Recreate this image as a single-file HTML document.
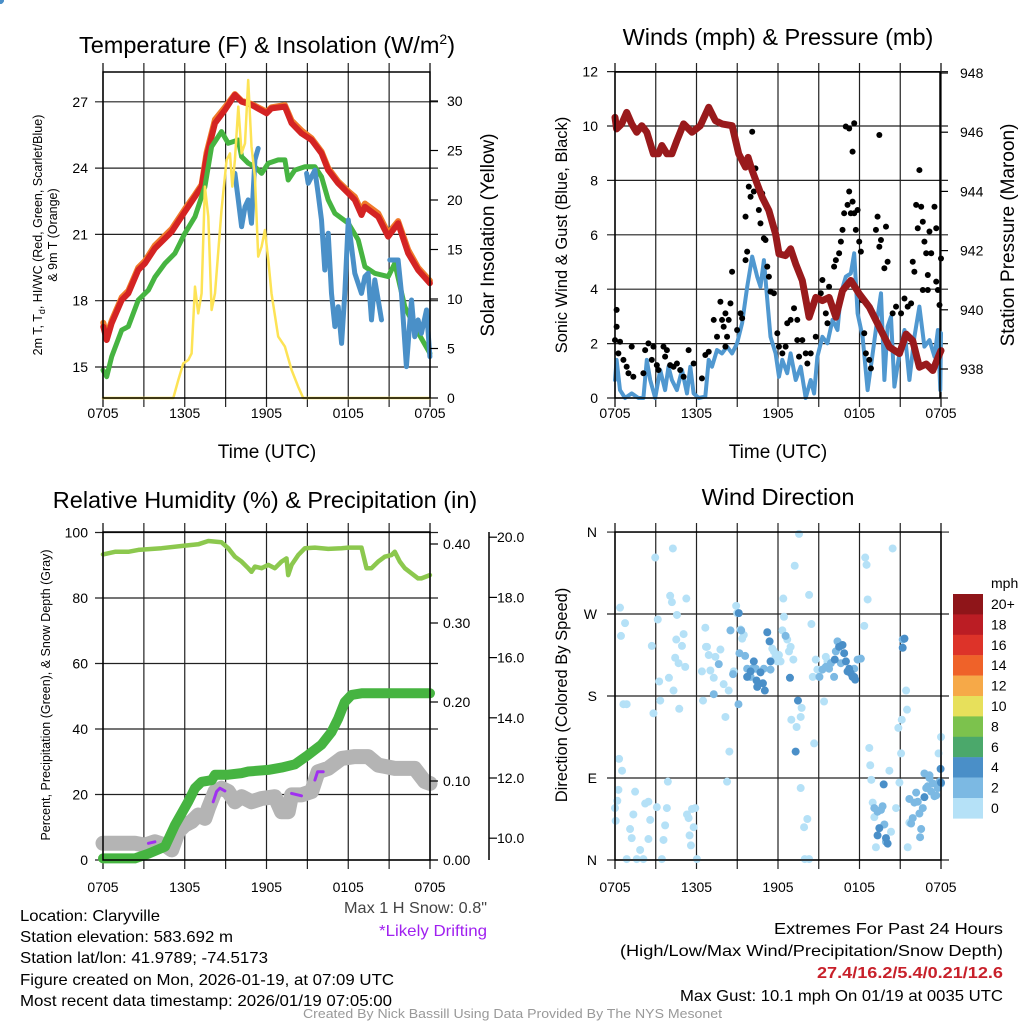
<!DOCTYPE html>
<html><head><meta charset="utf-8"><style>
html,body{margin:0;padding:0;background:#fff;}
svg{display:block;font-family:"Liberation Sans",Arial,sans-serif;}
</style></head><body>
<svg id="fig" width="1024" height="1024" viewBox="0 0 1024 1024" xmlns="http://www.w3.org/2000/svg">
<rect width="1024" height="1024" fill="#fff"/>
<g id="layerBack"></g>
<g id="layerData"></g>
<g id="layerFront"></g>
<g id="texts" fill="#000">
<text x="267" y="53" font-size="23.5" text-anchor="middle">Temperature (F) &amp; Insolation (W/m<tspan font-size="14" dy="-9">2</tspan><tspan dy="9">)</tspan></text>
<text x="778" y="45" font-size="23.5" text-anchor="middle">Winds (mph) &amp; Pressure (mb)</text>
<text x="265" y="508" font-size="23.5" text-anchor="middle">Relative Humidity (%) &amp; Precipitation (in)</text>
<text x="778" y="505" font-size="23.5" text-anchor="middle">Wind Direction</text>
<text transform="translate(42,235) rotate(-90)" font-size="12.5" text-anchor="middle">2m T, T<tspan font-size="9" dy="3">d</tspan><tspan dy="-3">, HI/WC (Red, Green, Scarlet/Blue)</tspan></text>
<text transform="translate(57,235) rotate(-90)" font-size="12.5" text-anchor="middle">&amp; 9m T (Orange)</text>
<text transform="translate(494,235) rotate(-90)" font-size="19" text-anchor="middle">Solar Insolation (Yellow)</text>
<text x="267" y="458" font-size="19" text-anchor="middle">Time (UTC)</text>
<text x="778" y="458" font-size="19" text-anchor="middle">Time (UTC)</text>
<text transform="translate(567,235) rotate(-90)" font-size="16.5" text-anchor="middle">Sonic Wind &amp; Gust (Blue, Black)</text>
<text transform="translate(1014,235) rotate(-90)" font-size="19" text-anchor="middle">Station Pressure (Maroon)</text>
<text transform="translate(50,695) rotate(-90)" font-size="12.5" text-anchor="middle">Percent, Precipitation (Green), &amp; Snow Depth (Gray)</text>
<text transform="translate(567,695) rotate(-90)" font-size="16.5" text-anchor="middle">Direction (Colored By Speed)</text>
<text x="344" y="913" font-size="16" fill="#444" textLength="143" lengthAdjust="spacingAndGlyphs">Max 1 H Snow: 0.8"</text>
<text x="379" y="936" font-size="16" fill="#a020f0" textLength="108" lengthAdjust="spacingAndGlyphs">*Likely Drifting</text>
<text x="20" y="921" font-size="16" textLength="140" lengthAdjust="spacingAndGlyphs">Location: Claryville</text>
<text x="20" y="942" font-size="16" textLength="213" lengthAdjust="spacingAndGlyphs">Station elevation: 583.692 m</text>
<text x="20" y="963" font-size="16" textLength="248" lengthAdjust="spacingAndGlyphs">Station lat/lon: 41.9789; -74.5173</text>
<text x="20" y="985" font-size="16" textLength="374" lengthAdjust="spacingAndGlyphs">Figure created on Mon, 2026-01-19, at 07:09 UTC</text>
<text x="20" y="1006" font-size="16" textLength="372" lengthAdjust="spacingAndGlyphs">Most recent data timestamp: 2026/01/19 07:05:00</text>
<text x="774" y="934" font-size="16" textLength="229" lengthAdjust="spacingAndGlyphs">Extremes For Past 24 Hours</text>
<text x="620" y="956" font-size="16" textLength="383" lengthAdjust="spacingAndGlyphs">(High/Low/Max Wind/Precipitation/Snow Depth)</text>
<text x="817" y="978" font-size="16" font-weight="bold" fill="#c8202a" textLength="186" lengthAdjust="spacingAndGlyphs">27.4/16.2/5.4/0.21/12.6</text>
<text x="680" y="1001" font-size="16" textLength="323" lengthAdjust="spacingAndGlyphs">Max Gust: 10.1 mph On 01/19 at 0035 UTC</text>
<text x="303" y="1018" font-size="12.5" fill="#999" textLength="419" lengthAdjust="spacingAndGlyphs">Created By Nick Bassill Using Data Provided By The NYS Mesonet</text>
<text x="991" y="588" font-size="14">mph</text>
</g>
</svg>
<script>
// ---------- DATA ----------
const xTickLabels = ['0705','1305','1905','0105','0705'];
const xTickHours = [0,6,12,18,24];
const tempTicks = [15,18,21,24,27];
const solarTicks = [0,5,10,15,20,25,30];
const windTicks = [0,2,4,6,8,10,12];
const presTicks = [938,940,942,944,946,948];
const rhTicks = [0,20,40,60,80,100];
const precipTicks = [0,0.1,0.2,0.3,0.4];
const snowTicks = [10,12,14,16,18,20];
const dirTicks = [0,90,180,270,360];
const dirLabels = ['N','E','S','W','N'];

const redT = [0.02,0.27,0.64,1.37,1.86,2.59,3.08,3.81,4.55,5.04,6.01,6.75,7.24,7.6,8.22,8.95,9.68,10.17,10.9,12,12.37,13.35,13.84,14.57,15.31,16.04,16.53,17.26,18,18.48,18.97,19.22,20.2,20.93,21.66,22.4,23.13,23.99];
const redV = [16.82,16.22,16.98,18.03,18.33,19.39,19.69,20.37,20.82,21.12,22.03,22.71,23.16,24.52,26.03,26.63,27.31,27.01,26.86,26.48,26.7,26.78,26.03,25.57,25.27,24.67,23.91,23.31,22.86,22.56,21.88,22.25,21.8,20.9,21.5,20.14,19.39,18.79];
const orangeV = [17.0,16.4,17.1,18.15,18.45,19.5,19.8,20.5,20.95,21.25,22.15,22.8,23.25,24.7,26.2,26.75,27.35,27.05,26.9,26.55,26.75,26.85,26.15,25.7,25.35,24.75,24.0,23.4,22.95,22.7,22.05,22.4,21.95,21.05,21.6,20.3,19.5,18.9];
const greenT = [0,0.27,0.64,1.37,1.86,2.59,3.33,3.81,4.55,5.28,6.01,6.75,7.48,7.97,8.7,9.19,9.93,10.17,10.66,11.15,11.64,12.13,12.86,13.35,13.59,14.08,14.82,15.55,16.04,16.53,17.02,18,18.73,19.22,19.95,20.93,21.42,22.15,22.88,23.99];
const greenV = [14.86,14.56,15.47,16.67,16.83,18.03,18.48,19.07,19.69,20.14,21.05,21.8,23.16,24.97,25.65,25.12,25.27,24.52,24.22,24.06,23.76,24.22,24.37,24.37,23.46,23.91,24.06,24.06,23.61,22.56,21.95,21.5,20.75,19.54,19.24,19.09,19.69,17.73,16.83,15.62];
const blueT = [9.68,9.93,10.17,10.42,10.66,10.9,11.15,11.39,null,14.94,15.06,15.55,15.79,16.04,16.28,16.53,16.77,17.02,17.26,17.51,17.75,18,18.24,18.48,18.97,19.22,19.46,19.71,19.95,20.2,20.44,null,21.05,21.66,21.91,22.27,22.64,22.88,23.13,23.37,23.74,23.99];
const blueV = [23.76,22.56,21.35,22.25,22.56,21.5,24.37,24.89,null,23.76,23.31,23.91,22.86,21.65,19.39,21.05,18.33,16.83,17.73,16.07,18.33,21.65,20.45,19.24,18.33,19.09,19.24,17.13,18.94,18.03,17.13,null,19.84,19.84,18.33,15.02,18.03,16.37,17.13,16.52,17.58,15.47];
const solarT = [0,5.16,5.53,5.89,6.26,6.5,6.75,6.99,7.24,7.48,7.73,7.97,8.22,8.7,9.07,9.32,9.49,9.68,9.93,10.17,10.42,10.66,10.9,11.15,11.39,11.64,11.88,12.13,12.37,12.86,13.35,13.84,14.33,14.69,24];
const solarV = [0,0,1.82,3.5,3.84,4.5,11.25,8.55,10.57,21.35,18.32,8.89,10.57,18.99,24.04,24.71,21.35,24.04,29.43,24.71,25.72,32.12,25.39,22.36,14.28,15.29,16.97,13.94,10.57,6.2,5.19,2.83,1.14,0,0];

const presT = [0,0.12,0.49,0.86,1.23,1.6,1.97,2.34,2.83,3.2,3.45,3.82,4.19,4.56,5.05,5.67,6.28,6.9,7.39,7.88,8.62,9.11,9.61,9.8,10.1,10.84,11.33,11.82,12.07,12.56,12.93,13.3,13.79,14.29,14.78,15.27,15.76,16.26,16.75,17.36,17.98,18.72,19.46,20.2,20.94,21.43,21.92,22.41,22.91,23.4,23.89,24];
const presV = [946.5,946.11,946.28,946.67,946.28,946.0,946.22,946.0,945.27,945.27,945.55,945.27,945.27,945.72,946.28,946.0,946.22,946.84,946.39,946.28,946.22,945.27,944.82,945.15,944.7,943.8,943.35,942.56,941.89,941.83,942.06,941.55,940.99,939.75,940.42,940.31,940.42,939.75,940.65,940.99,940.54,940.09,939.42,938.74,938.52,939.18,938.96,938.06,938.17,937.95,938.51,938.62];
const windT = [0,0.12,0.37,0.74,1.23,1.72,2.09,2.34,2.59,2.96,3.33,3.69,3.94,4.19,4.56,4.93,5.3,5.54,5.79,6.16,6.65,6.9,7.14,7.51,7.88,8.25,8.62,8.99,9.36,9.73,10.1,10.47,10.71,10.96,11.21,11.45,11.82,12.07,12.32,12.68,12.93,13.3,13.67,14.04,14.41,14.66,14.9,15.27,15.64,16.01,16.38,16.63,16.99,17.36,17.61,17.86,18.23,18.6,18.97,19.33,19.58,19.83,20.07,20.32,20.57,20.94,21.31,21.67,22.04,22.41,22.78,23.15,23.52,23.77,23.95,24];
const windV = [0.66,1.4,0.29,0,0.17,0,0,1.4,0.66,0,1.03,0.29,1.15,0.66,0.29,1.03,0.17,1.15,0.17,0,0.05,1.4,1.15,1.76,1.64,1.89,1.64,2.01,2.75,4.09,5.2,4.46,4.09,5.07,3.6,2.25,1.64,0.78,1.4,0.91,1.64,0.66,1.15,0,0.66,0.17,1.52,2.25,2.01,2.87,2.5,3.85,4.46,4.58,5.32,3.11,2.25,0.29,1.64,2.99,3.85,0.66,2.62,2.99,0.42,1.64,2.5,0.66,2.25,3.36,1.89,2.13,1.52,2.5,0.29,2.38];
const gustT = [0.12,0.12,0,0.25,0.37,0.62,0.86,1.23,0.99,1.35,2.09,2.22,2.46,2.83,2.71,3.08,3.2,3.57,3.69,3.82,4.06,4.31,4.56,4.8,5.05,5.42,5.79,6.4,6.65,6.9,7.27,7.51,7.76,7.88,8,8.13,8.25,8.37,8.5,8.62,8.13,8.99,9.24,9.36,9.61,9.61,9.73,9.98,10.1,10.34,9.85,10.22,10.59,10.71,10.84,10.96,11.08,11.21,11.33,11.45,11.7,11.95,12.07,12.32,12.56,12.68,12.93,13.18,13.42,13.42,13.55,13.79,14.04,14.16,14.41,14.78,15.15,15.27,15.52,15.64,15.76,16.13,16.26,16.5,16.63,16.75,16.87,17.12,17.24,17.36,17.49,17.61,17.73,17.86,17.98,18.1,16.99,17.24,17.61,17.49,18.18,18.35,18.47,18.72,18.84,19.21,19.33,19.46,19.58,19.95,19.83,20.07,19.46,20.44,20.69,21.06,21.31,21.55,21.8,21.92,22.04,22.17,22.29,22.41,22.54,22.66,22.78,22.91,23.03,23.15,23.28,23.52,23.65,23.65,23.77,23.89,24,22.66,23.03];
const gustV = [3.24,2.62,2.13,1.64,2.07,1.4,1.15,1.89,0.91,0.78,0.91,1.76,2.01,1.89,1.4,1.21,1.03,1.89,1.52,1.76,1.21,1.15,1.27,1.03,0.78,1.76,1.27,0.72,1.58,1.7,2.87,2.25,3.54,2.87,2.62,3.11,2.25,2.87,3.48,4.64,1.89,2.5,3.11,2.93,5.07,6.67,5.38,7.4,9.79,8.44,7.77,7.59,6.91,6.42,7.52,5.87,5.81,4.83,4.46,3.91,3.85,2.38,1.89,1.64,1.89,2.75,2.87,3.3,2.87,2.13,1.52,2.13,1.64,1.27,1.64,2.25,3.85,4.34,3.11,2.75,4.09,4.83,5.07,5.32,5.75,6.18,6.79,7.1,7.59,6.79,7.22,6.79,6.18,6.91,5.75,5.38,9.98,9.91,10.1,9.06,3.6,2.38,1.64,1.4,1.09,6.18,6.67,5.56,5.81,6.3,4.77,5.01,9.67,3.11,3.36,3.11,3.66,3.36,3.48,5.01,4.64,7.1,6.24,8.38,7.03,6.48,5.75,5.32,4.52,6.12,5.32,7.03,6.24,4.28,3.97,3.42,5.13,3.97,3.97];

const rhT = [0,0.88,1.86,2.59,4.3,6.01,6.99,7.73,8.7,9.19,9.68,10.17,10.66,10.9,11.15,11.64,12.13,12.62,13.1,13.47,13.59,13.84,14.33,14.82,15.55,16.53,17.51,18,18.97,19.34,19.71,20.2,20.68,21.17,21.42,21.78,22.15,22.64,23.13,23.37,23.99];
const rhV = [93.3,94.1,94.1,94.7,95.2,96,96.4,97.4,97,95.2,92.6,91.1,89.1,88,89.6,89.1,90.1,89.1,91.1,92.1,87,90.1,93.1,95.2,95.4,95,95.2,95.4,95.4,89.1,89.1,91.1,92.6,93.1,94.1,91.1,89.1,87.5,86,86,87];
const precipT = [0,2.35,3.33,4.55,5.28,5.77,6.26,6.75,7.24,7.97,8.22,9.19,10.17,10.66,12.13,13.1,14.08,15.06,16.04,16.77,17.26,17.75,18.24,18.97,24];
const precipV = [0.002,0.002,0.008,0.017,0.044,0.059,0.074,0.091,0.099,0.101,0.108,0.108,0.11,0.112,0.114,0.117,0.121,0.133,0.146,0.162,0.179,0.2,0.209,0.211,0.211];
const snowT = [0,2.35,3.08,3.81,4.55,5.04,5.53,6.01,6.5,6.99,7.48,7.73,8.22,8.7,9.19,9.68,10.17,10.9,11.64,12.62,13.1,13.59,13.84,14.57,15.31,15.79,16.53,17.51,18.48,19.46,20.2,21.42,22.88,23.62,24];
const snowV = [9.83,9.83,9.77,9.88,9.77,9.61,10.22,10.44,10.55,10.77,10.66,10.99,11.55,11.66,11.55,11.21,11.38,11.21,11.32,11.38,10.88,10.88,11.44,11.44,11.55,12.21,12.32,12.65,12.71,12.71,12.43,12.32,12.32,11.88,11.82];
const driftT = [3.33,3.81,null,8.09,8.34,8.58,8.95,null,13.84,14.57,null,15.55,15.75,16.16];
const driftV = [9.83,9.88,null,11.21,11.55,11.66,11.57,null,11.49,11.41,null,11.93,12.21,12.21];

const dirT = [0.37,0.74,0.44,0,0.05,0.17,0.25,0.3,0.52,0.62,0.86,1.11,1.23,1.35,1.48,1.85,2.22,2.46,2.59,2.46,2.83,2.96,2.71,3.08,3.15,3.25,3.33,3.57,3.69,3.82,3.89,3.97,4.06,4.19,4.26,4.31,4.43,4.51,4.56,4.68,4.73,4.93,5.05,5.17,5.25,5.3,5.42,5.49,5.59,5.67,5.79,5.91,0.86,1.6,2.09,3.45,6.03,6.4,6.48,6.65,6.77,6.9,7.02,7.27,7.39,8.13,8.25,8.42,8.74,8.92,8.99,9.24,9.36,9.48,11.58,11.7,11.82,11.95,12.07,12.19,12.32,12.39,12.44,12.68,12.81,12.93,12.98,13.13,13.23,13.55,13.67,13.67,13.74,13.37,13.92,14.16,14.29,14.29,14.46,14.66,14.78,14.9,14.56,15.39,15.52,15.64,18.35,18.42,18.52,18.6,18.72,18.79,18.87,18.97,19.09,19.21,20.2,20.32,20.44,20.69,20.86,20.94,21.06,21.11,21.43,21.5,21.67,23.82,24,21.55,13.97,
6.7,7.76,8,8.37,8.69,9.09,9.29,9.58,9.73,9.98,10.1,10.37,10.96,11.45,12.56,15.05,15.27,15.52,15.76,15.89,16.13,16.38,16.26,16.63,17.61,17.86,18.1,21.18,21.67,21.8,22.04,22.17,22.29,22.54,22.41,22.66,22.78,23.03,23.15,23.28,23.52,23.65,23.77,23.89,24,19.09,19.33,19.58,19.7,19.95,19.83,22.46,21.92,23.4,23.15,22.91,
7.64,7.27,8.5,9.16,9.73,9.98,10.22,10.42,10.47,10.71,10.89,11.03,11.21,11.38,11.45,12.88,13.3,13.47,16.18,16.5,16.75,16.87,17,17.12,17.24,17.36,17.49,17.61,17.68,19.46,19.33,19.78,19.95,20.07,21.31,21.18,22.78,23.97,24,9.11];
const dirV = [277,260,246,57,43,65,77,111,98,171,171,34,24,50,75,11,62,64,44,23,161,332,235,58,264,196,175,22,38,57,86,200,290,283,342,186,222,242,269,216,166,235,248,212,287,50,46,27,16,56,36,57,1,1,1,1,1,207,175,255,234,225,208,200,223,157,86,119,207,279,271,253,243,247,232,229,223,218,225,218,252,287,267,242,229,234,154,220,323,358,79,157,167,146,36,45,291,1,259,128,220,209,201,174,223,218,257,332,324,286,123,104,88,63,47,14,98,31,342,57,145,85,117,154,186,165,41,117,135,14,1,
234,231,193,186,204,171,252,224,210,201,210,210,210,209,246,201,209,212,210,216,201,240,229,216,210,220,221,242,67,40,63,74,64,34,51,57,95,81,90,75,70,71,79,86,84,57,53,55,59,20,39,25,46,84,93,79,
215,182,252,227,201,207,218,197,190,206,194,186,250,240,218,200,119,175,220,234,236,227,218,207,210,205,201,201,198,35,27,83,24,18,243,233,69,100,85,271];
const dirSpeedGroups = [135,56,40]; // counts of points at speed 1, 3, 5 mph
const dirSpeedLevels = [1,3,5];
const cbLabels = ['20+','18','16','14','12','10','8','6','4','2','0'];
const cbColors = ['#8f1519','#bb1d24','#dd3329','#ef6229','#f6a948','#e7e05b','#7cc24d','#4ba86b','#4a8fc8','#7cb9e3','#b5e1f7'];

// ---------- SCALES ----------
const X1 = t => 103 + t * 327 / 24;
const X2 = t => 615 + t * 326 / 24;
const YT = v => 367 - (v - 15) * 22.1;
const YS = v => 398 - v * 9.9;
const YW = v => 398 - v * 27.2;
const YP = v => 369 - (v - 938) * 29.6;
const YR = v => 860 - v * 3.275;
const YPr = v => 860 - v * 790;
const YSn = v => 778 - (v - 12) * 30.1;
const YD = v => 860 - v * 0.911;
const speedColor = s => cbColors[10 - Math.min(10, Math.floor(s / 2))];

const NS = 'http://www.w3.org/2000/svg';
const back = document.getElementById('layerBack');
const dataL = document.getElementById('layerData');
const front = document.getElementById('layerFront');
function mk(tag, parent, attrs) {
  const e = document.createElementNS(NS, tag);
  for (const k in attrs) e.setAttribute(k, attrs[k]);
  parent.appendChild(e);
  return e;
}
function pathD(ts, vs, xf, yf) {
  let d = '', pen = false;
  for (let i = 0; i < ts.length; i++) {
    if (ts[i] === null || vs[i] === null) { pen = false; continue; }
    d += (pen ? 'L' : 'M') + xf(ts[i]).toFixed(1) + ',' + yf(vs[i]).toFixed(1);
    pen = true;
  }
  return d;
}
function series(name, ts, vs, xf, yf, color, w) {
  const p = mk('path', dataL, {d: pathD(ts, vs, xf, yf), fill: 'none', stroke: color, 'stroke-width': w, 'stroke-linejoin': 'round', 'stroke-linecap': 'round'});
  
  
}

const panels = [
  {name: 'temperature', x0: 103, x1: 430, y0: 72, y1: 398, xf: X1, lab: 20},
  {name: 'winds', x0: 615, x1: 940, y0: 72, y1: 398, xf: X2, lab: 20},
  {name: 'humidity', x0: 103, x1: 430, y0: 532, y1: 860, xf: X1, lab: 32},
  {name: 'direction', x0: 615, x1: 941, y0: 532, y1: 860, xf: X2, lab: 32}
];
panels.forEach(p => {
  for (let h = 3; h < 24; h += 3) {
    const x = p.xf(h);
    const l = mk('line', back, {x1: x, x2: x, y1: p.y0 - 9, y2: p.y1 + 9, stroke: '#222', 'stroke-width': 1.2});
    
    
  }
  [0, 24].forEach(h => {
    const x = p.xf(h);
    const l = mk('line', back, {x1: x, x2: x, y1: p.y0 - 9, y2: p.y1 + 9, stroke: '#000', 'stroke-width': 1.2});
    
    
  });
  xTickHours.forEach((h, i) => {
    const t = mk('text', front, {x: p.xf(h), y: p.y1 + p.lab, 'font-size': 14, 'text-anchor': 'middle'});
    t.textContent = xTickLabels[i];
    
    
  });
  const r = mk('rect', front, {x: p.x0, y: p.y0, width: p.x1 - p.x0, height: p.y1 - p.y0, fill: 'none', stroke: '#000', 'stroke-width': 1.5});
  
  
});
function hGrid(p, ticks, yf, labels, lx) {
  ticks.forEach((v, i) => {
    const y = yf(v);
    const l = mk('line', back, {x1: p.x0 - 8, x2: p.x1 + 8, y1: y, y2: y, stroke: '#222', 'stroke-width': 1.2});
    
    
    const t = mk('text', front, {x: lx, y: y + 5, 'font-size': 14, 'text-anchor': 'end'});
    t.textContent = labels[i];
    
    
  });
}
function rightAxis(name, ticks, yf, labels, ax, lx) {
  ticks.forEach((v, i) => {
    const y = yf(v);
    const l = mk('line', front, {x1: ax, x2: ax + 8, y1: y, y2: y, stroke: '#000', 'stroke-width': 1.2});
    
    
    const t = mk('text', front, {x: lx, y: y + 5, 'font-size': 14});
    t.textContent = labels[i];
    
    
  });
}
hGrid(panels[0], tempTicks, YT, tempTicks.map(String), 88);
rightAxis('insolation-axis', solarTicks, YS, solarTicks.map(String), 430, 447);
hGrid(panels[1], windTicks, YW, windTicks.map(String), 598);
rightAxis('pressure-axis', presTicks, YP, presTicks.map(String), 940, 960);
hGrid(panels[2], rhTicks, YR, rhTicks.map(String), 88);
rightAxis('precip-axis', precipTicks, YPr, precipTicks.map(v => v.toFixed(2)), 430, 443);
rightAxis('snow-axis', snowTicks, YSn, snowTicks.map(v => v.toFixed(1)), 489, 497);
const sa = mk('line', front, {x1: 489, x2: 489, y1: 532, y2: 860, stroke: '#000', 'stroke-width': 1.5});


hGrid(panels[3], dirTicks, YD, dirLabels, 597);

// ---------- SERIES ----------
series('orange-9m-temp-line', redT, orangeV, X1, YT, '#f07a2a', 6);
series('red-2m-temp-line', redT, redV, X1, YT, '#d42323', 6);
series('green-dewpoint-line', greenT, greenV, X1, YT, '#46b441', 5);
series('blue-windchill-line', blueT, blueV, X1, YT, '#4a90c8', 5);
series('yellow-insolation-line', solarT, solarV, X1, YS, '#fde355', 2.5);

series('blue-wind-line', windT, windV, X2, YW, '#5098d0', 4);
gustT.forEach((t, i) => {
  const c = mk('circle', dataL, {cx: X2(t), cy: YW(gustV[i]), r: 3, fill: '#000'});
  
  
});
series('maroon-pressure-line', presT, presV, X2, YP, '#991a1c', 7);

series('gray-snow-depth-line', snowT, snowV, X1, YSn, '#b4b4b4', 15);
series('purple-drifting-line', driftT, driftV, X1, YSn, '#a030f0', 3);
series('green-precip-line', precipT, precipV, X1, YPr, '#46b441', 10);
series('lightgreen-rh-line', rhT, rhV, X1, YR, '#8cc84e', 4.5);

let k = 0;
dirSpeedGroups.forEach((n, g) => {
  for (let j = 0; j < n; j++, k++) {
    const c = mk('circle', dataL, {cx: X2(dirT[k]), cy: YD(dirV[k]), r: 4, fill: speedColor(dirSpeedLevels[g])});
    
    
  }
});

cbColors.forEach((col, i) => {
  const y = 594 + i * 20.4;
  const r = mk('rect', front, {x: 953, y: y, width: 30, height: 20.6, fill: col});
  
  
  const t = mk('text', front, {x: 991, y: y + 15, 'font-size': 14});
  t.textContent = cbLabels[i];
  
  
});
</script>
</body></html>
